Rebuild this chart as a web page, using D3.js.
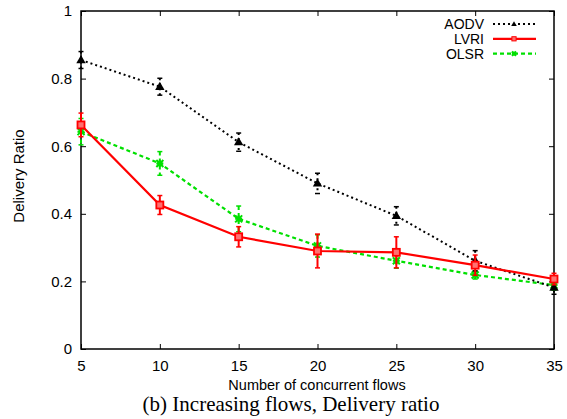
<!DOCTYPE html>
<html><head><meta charset="utf-8">
<script src="https://cdn.jsdelivr.net/npm/d3@7"></script>
<style>body{margin:0;background:#fff}</style>
</head><body>
<svg id="c" width="567" height="419"></svg>
<script>
const flows = [5,10,15,20,25,30,35];
const xTicks = [5,10,15,20,25,30,35];
const yTicks = [0,0.2,0.4,0.6,0.8,1];
const yTickLabels = ["0","0.2","0.4","0.6","0.8","1"];
const aodv = [0.855,0.776,0.612,0.49,0.394,0.261,0.182];
const aodvErr = [0.025,0.025,0.027,0.03,0.027,0.03,0.02];
const lvri = [0.663,0.426,0.332,0.29,0.286,0.248,0.207];
const lvriErr = [0.035,0.028,0.03,0.05,0.046,0.03,0.017];
const olsr = [0.643,0.549,0.385,0.305,0.261,0.219,0.189];
const olsrErr = [0.039,0.035,0.038,0.033,0.022,0.012,0.015];
const seriesNames = ["AODV","LVRI","OLSR"];

const svg = d3.select("#c");
const L=81,R=554,T=11,B=349;
const x = d3.scaleLinear().domain([5,35]).range([L,R]);
const y = d3.scaleLinear().domain([0,1]).range([B,T]);
const font = "Liberation Sans, Arial, sans-serif";

svg.append("rect").attr("x",L).attr("y",T).attr("width",R-L).attr("height",B-T)
  .attr("fill","none").attr("stroke","#000").attr("stroke-width",1.5);

const xa = svg.append("g").attr("transform",`translate(0,${B})`)
  .call(d3.axisBottom(x).tickValues(xTicks).tickSize(-5).tickPadding(11).tickFormat(d3.format("d")));
const ya = svg.append("g").attr("transform",`translate(${L},0)`)
  .call(d3.axisLeft(y).tickValues(yTicks).tickSize(-5).tickPadding(9).tickFormat((d,i)=>yTickLabels[i]));
const xt = svg.append("g").attr("transform",`translate(0,${T})`)
  .call(d3.axisTop(x).tickValues(xTicks).tickSize(-5).tickFormat(""));
const yr = svg.append("g").attr("transform",`translate(${R},0)`)
  .call(d3.axisRight(y).tickValues(yTicks).tickSize(-5).tickFormat(""));
[xa,ya,xt,yr].forEach(g=>{
  g.select(".domain").remove();
  g.selectAll("line").attr("stroke","#000").attr("stroke-width",1);
  g.selectAll("text").attr("font-family",font).attr("font-size",15).attr("fill","#000");
});
xa.selectAll("text").attr("dy","0.71em");

svg.append("text").attr("x",317).attr("y",390).attr("text-anchor","middle")
  .attr("font-family",font).attr("font-size",14.5).text("Number of concurrent flows");
svg.append("text").attr("transform","translate(24,176) rotate(-90)").attr("text-anchor","middle")
  .attr("font-family",font).attr("font-size",15).text("Delivery Ratio");
svg.append("text").attr("x",291).attr("y",411).attr("text-anchor","middle")
  .attr("font-family","Liberation Serif, Times New Roman, serif").attr("font-size",21).text("(b) Increasing flows, Delivery ratio");

const series = [
  {name:seriesNames[0], v:aodv, e:aodvErr, color:"#000", dash:"2,3", w:2, marker:"tri"},
  {name:seriesNames[1], v:lvri, e:lvriErr, color:"#ff0000", dash:null, w:2.2, marker:"sq"},
  {name:seriesNames[2], v:olsr, e:olsrErr, color:"#00e000", dash:"4,3", w:2.2, marker:"star"}
];

function drawMarker(g, type, cx, cy, color, small){
  const s = small ? 0.6 : 1;
  if(type==="tri"){
    g.append("path").attr("d",d3.symbol().type(d3.symbolTriangle).size(38*s*s)())
      .attr("transform",`translate(${cx},${cy+0.5})`).attr("fill",color);
  } else if(type==="sq"){
    const h=3.5*s;
    g.append("rect").attr("x",cx-h).attr("y",cy-h).attr("width",2*h).attr("height",2*h)
      .attr("fill","#ff7070").attr("stroke",color).attr("stroke-width",small?1:1.8);
  } else {
    const h=3.5*s;
    g.append("path").attr("d",`M${cx-h},${cy-h}L${cx+h},${cy+h}M${cx-h},${cy+h}L${cx+h},${cy-h}M${cx},${cy-h}L${cx},${cy+h}M${cx-h},${cy}L${cx+h},${cy}`)
      .attr("stroke",color).attr("stroke-width",2);
  }
}

[series[2],series[0],series[1]].forEach(s=>{
  const g = svg.append("g");
  const line = d3.line().x((d,i)=>x(flows[i])).y(d=>y(d));
  g.append("path").datum(s.v).attr("d",line).attr("fill","none")
    .attr("stroke",s.color).attr("stroke-width",s.w).attr("stroke-dasharray",s.dash);
  s.v.forEach((v,i)=>{
    const cx=x(flows[i]), y1=y(v+s.e[i]), y2=y(v-s.e[i]);
    g.append("line").attr("x1",cx).attr("x2",cx).attr("y1",y1).attr("y2",y2)
      .attr("stroke",s.color).attr("stroke-width",2).attr("stroke-dasharray",s.dash);
    [y1,y2].forEach(yy=>g.append("line").attr("x1",cx-2.5).attr("x2",cx+2.5).attr("y1",yy).attr("y2",yy)
      .attr("stroke",s.color).attr("stroke-width",1.5));
    drawMarker(g,s.marker,cx,y(v),s.color,false);
  });
});

series.forEach((s,i)=>{
  const yy = 24 + i*14.8;
  svg.append("text").attr("x",484).attr("y",yy).attr("dy","0.35em").attr("text-anchor","end")
    .attr("font-family",font).attr("font-size",14).text(s.name);
  svg.append("line").attr("x1",493).attr("x2",536).attr("y1",yy).attr("y2",yy)
    .attr("stroke",s.color).attr("stroke-width",s.w).attr("stroke-dasharray",s.dash);
  drawMarker(svg,s.marker,514,yy,s.color,true);
});
</script>
</body></html>
